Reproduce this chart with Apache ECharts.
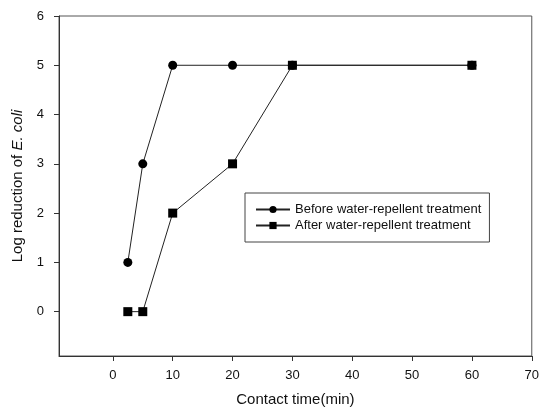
<!DOCTYPE html>
<html>
<head>
<meta charset="utf-8">
<script src="https://cdn.jsdelivr.net/npm/echarts@6/dist/echarts.min.js"></script>
<style>
  html, body { margin: 0; padding: 0; background: #fff; }
  #chart { width: 542px; height: 412px; }
</style>
</head>
<body>
<div id="chart"></div>
<script>
// contact time (min) and log reduction values
var timesBefore = [2.5, 5, 10, 20, 30, 60];
var before = [1, 3, 5, 5, 5, 5];
var timesAfter = [2.5, 5, 10, 20, 30, 60];
var after = [0, 0, 2, 3, 5, 5];
var xTicks = [0, 10, 20, 30, 40, 50, 60, 70];
var yTicks = [0, 1, 2, 3, 4, 5, 6];

function pairs(xs, ys) {
    return xs.map(function (x, i) { return [x, ys[i]]; });
}

var chart = echarts.init(document.getElementById('chart'));
var font = 'Liberation Sans, Arial, sans-serif';
var option = {
    animation: false,
    textStyle: { fontFamily: font },
    grid: { left: 59, right: 8, top: 16, bottom: 55, show: true, borderColor: '#555', borderWidth: 1 },
    legend: {
        left: 245, top: 193,
        orient: 'vertical',
        itemGap: 3,
        itemWidth: 34, itemHeight: 9,
        padding: [10, 8, 10, 10],
        borderColor: '#444', borderWidth: 1,
        backgroundColor: '#fff',
        textStyle: { fontFamily: font, fontSize: 13, color: '#111' },
        data: ['Before water-repellent treatment', 'After water-repellent treatment']
    },
    xAxis: {
        type: 'value',
        min: -9, max: 70,
        name: 'Contact time(min)',
        nameLocation: 'middle',
        nameGap: 36,
        nameTextStyle: { fontSize: 15, color: '#111' },
        axisLine: { show: true, onZero: false, lineStyle: { color: '#333' } },
        axisTick: { show: true, customValues: xTicks, length: 5, lineStyle: { color: '#333' } },
        axisLabel: { customValues: xTicks, fontSize: 13, color: '#111', margin: 13 },
        splitLine: { show: false }
    },
    yAxis: {
        type: 'value',
        min: -0.9, max: 6,
        name: '{n|Log reduction of }{i|E. coli}',
        nameLocation: 'middle',
        nameGap: 34,
        nameTextStyle: {
            rich: {
                n: { fontSize: 15, color: '#111', fontFamily: font },
                i: { fontSize: 15, color: '#111', fontStyle: 'italic', fontFamily: font }
            }
        },
        axisLine: { show: true, onZero: false, lineStyle: { color: '#333' } },
        axisTick: { show: true, customValues: yTicks, length: 5, lineStyle: { color: '#333' } },
        axisLabel: { customValues: yTicks, fontSize: 13, color: '#111', margin: 15 },
        splitLine: { show: false }
    },
    series: [
        {
            name: 'Before water-repellent treatment',
            type: 'line',
            data: pairs(timesBefore, before),
            symbol: 'circle',
            symbolSize: 9,
            itemStyle: { color: '#000' },
            lineStyle: { color: '#222', width: 1 }
        },
        {
            name: 'After water-repellent treatment',
            type: 'line',
            data: pairs(timesAfter, after),
            symbol: 'rect',
            symbolSize: 9,
            itemStyle: { color: '#000' },
            lineStyle: { color: '#222', width: 1 }
        }
    ]
};
chart.setOption(option);
</script>
</body>
</html>
